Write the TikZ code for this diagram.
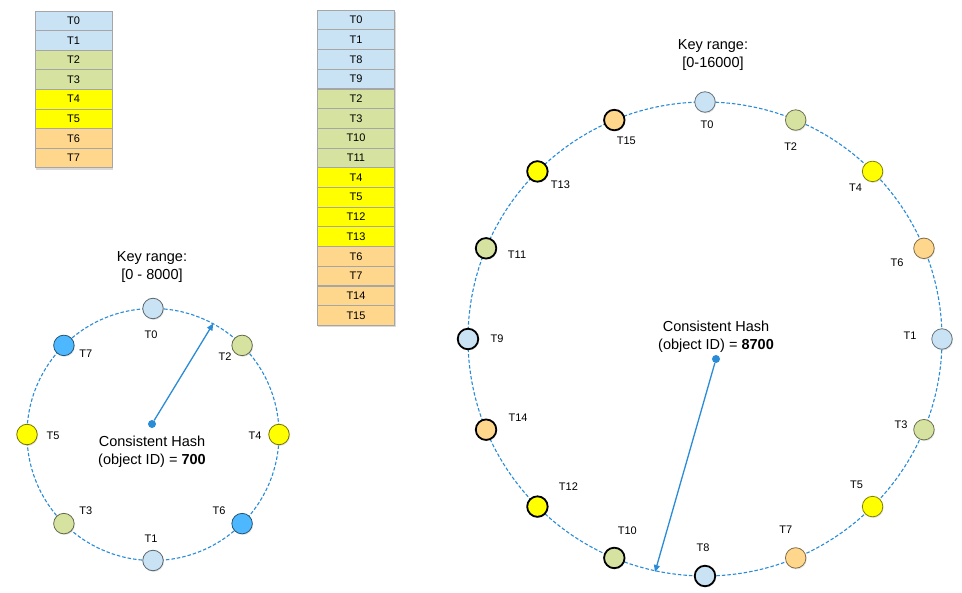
\documentclass[tikz,border=0pt]{standalone}
\usepackage{fontspec}
\setmainfont{Liberation Sans}
\usetikzlibrary{arrows.meta,shadows}
\definecolor{tokblue}{HTML}{C9E3F5}
\definecolor{tokgreen}{HTML}{D6E3A0}
\definecolor{tokyellow}{HTML}{FFFF00}
\definecolor{tokorange}{HTML}{FFD78C}
\definecolor{tokbright}{HTML}{4DB8FF}
\definecolor{ringblue}{HTML}{2A8BD6}

\begin{document}
\begin{tikzpicture}[x=1pt,y=-1pt]
        \tikzstyle{every node}=[font=\fontsize{11}{13}\selectfont]
        \tikzstyle{cell}=[draw=black!35,line width=0.6pt,minimum width=77pt,minimum height=19.6pt,inner sep=0pt]
        \tikzstyle{ring}=[ringblue,line width=1.1pt,dash pattern=on 3.5pt off 2pt]
        \tikzstyle{tok}=[circle,minimum size=20.5pt,inner sep=0pt,line width=0.8pt,drop shadow={shadow xshift=0.8pt,shadow yshift=-1.2pt,opacity=0.2}]
        \tikzstyle{tokold}=[]
        \tikzstyle{tokbold}=[draw=black,line width=1.8pt]
        \tikzstyle{hashdot}=[circle,fill=ringblue,minimum size=8pt,inner sep=0pt]
        \tikzstyle{hasharrow}=[ringblue,line width=1.3pt,-{Triangle[length=7pt,width=6pt]}]
        \tikzstyle{caption}=[font=\fontsize{14.5}{18}\selectfont,align=center]
        \useasboundingbox (0,0) rectangle (962,593);

        \begin{scope}
       \fill[white,drop shadow={shadow xshift=1pt,shadow yshift=-2pt,opacity=0.3}] (35,11) rectangle (112,168);
       \foreach \t/\c [count=\i from 0] in {T0/tokblue,T1/tokblue,T2/tokgreen,T3/tokgreen,T4/tokyellow,T5/tokyellow,T6/tokorange,T7/tokorange}{
            \node[cell,fill=\c] (a\t) at (73.5,{20.8+19.6*\i}) {\t};
        }

       \fill[white,drop shadow={shadow xshift=1pt,shadow yshift=-2pt,opacity=0.3}] (317,10) rectangle (395,325);
       \foreach \t/\c [count=\i from 0] in {T0/tokblue,T1/tokblue,T8/tokblue,T9/tokblue,T2/tokgreen,T3/tokgreen,T10/tokgreen,T11/tokgreen,T4/tokyellow,T5/tokyellow,T12/tokyellow,T13/tokyellow,T6/tokorange,T7/tokorange,T14/tokorange,T15/tokorange}{
            \node[cell,fill=\c] (b\t) at (356,{19.85+19.7*\i}) {\t};
        }
     \end{scope}

        \begin{scope}[shift={(153,434.5)}]
       \draw[ring] (0,0) circle (126);
       \foreach \a/\t/\c/\dx/\dy in {90/T0/tokblue/-2/26,45/T2/tokgreen/-17/11,0/T4/tokyellow/-24/1,-45/T6/tokbright/-23/-13,-90/T1/tokblue/-2/-22,-135/T3/tokgreen/22/-13,180/T5/tokyellow/26/1,135/T7/tokbright/22/8}{
            \node[tok,draw=\c!45!black,fill=\c] (s\t) at ({126*cos(\a)},{-126*sin(\a)}) {};
            \node (s\t l) at ({126*cos(\a)+\dx},{-126*sin(\a)+\dy}) {\t};
        }
     \end{scope}

       \node[caption] (skey) at (152,267) {Key range:\\{}[0 - 8000]};
       \node[caption] (shash) at (152,451.5) {Consistent Hash\\(object ID) = \textbf{700}};
       \node[hashdot] (sdot) at (152,424) {};
       \coordinate (starget) at (213.3,323.4);
       \draw[hasharrow] (sdot) -- (starget);

        \begin{scope}[shift={(705,339)}]
       \draw[ring] (0,0) circle (237);
       \foreach \a/\t/\c/\s/\dx/\dy in {90/T0/tokblue/tokold/2/23,67.5/T2/tokgreen/tokold/-5/27,45/T4/tokyellow/tokold/-17/16,22.5/T6/tokorange/tokold/-27/14,0/T1/tokblue/tokold/-32/-3,-22.5/T3/tokgreen/tokold/-23/-5,-45/T5/tokyellow/tokold/-16/-22,-67.5/T7/tokorange/tokold/-10/-28,-90/T8/tokblue/tokbold/-2/-28,-112.5/T10/tokgreen/tokbold/13/-27,-135/T12/tokyellow/tokbold/31/-20,-157.5/T14/tokorange/tokbold/32/-12,180/T9/tokblue/tokbold/29/0,157.5/T11/tokgreen/tokbold/31/6,135/T13/tokyellow/tokbold/23/13,112.5/T15/tokorange/tokbold/12/21}{
            \node[tok,draw=\c!50!black,fill=\c,\s] (r\t) at ({237*cos(\a)},{-237*sin(\a)}) {};
            \node (r\t l) at ({237*cos(\a)+\dx},{-237*sin(\a)+\dy}) {\t};
        }
     \end{scope}

       \node[caption] (lkey) at (713,55.5) {Key range:\\{}[0-16000]};
       \node[caption] (lhash) at (716,337) {Consistent Hash\\(object ID) = \textbf{8700}};
       \node[hashdot] (ldot) at (716,359) {};
       \coordinate (ltarget) at (655,572);
       \draw[hasharrow] (ldot) -- (ltarget);
  \end{tikzpicture}
\end{document}
